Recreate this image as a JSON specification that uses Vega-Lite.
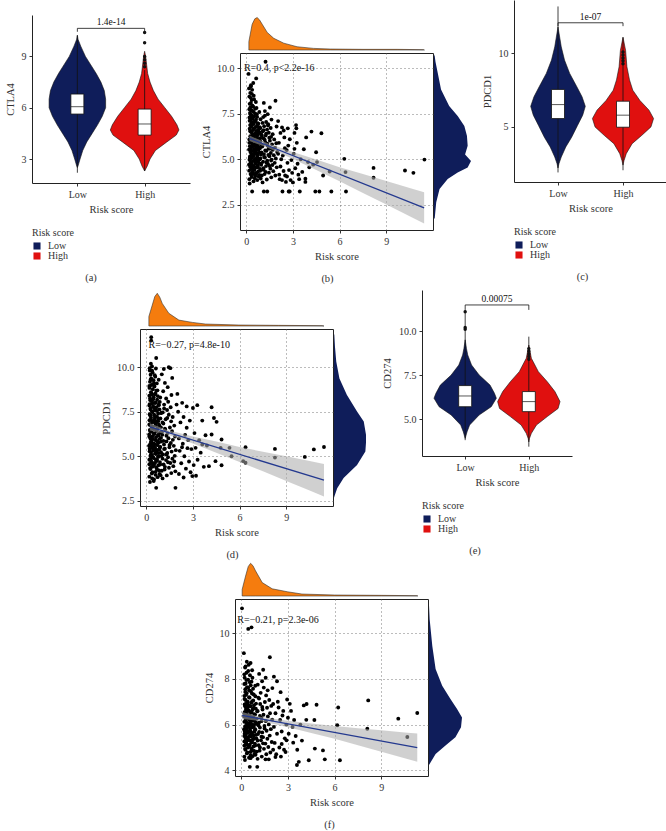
{
"$schema":"https://vega.github.io/schema/vega-lite/v6.json",
"padding":{"left":5,"top":0,"right":0,"bottom":0},
"background":"white",
"config":{
 "view":{"stroke":null},
 "font":"Liberation Serif",
 "style":{"guide-title":{"fontWeight":"normal"},"group-title":{"fontWeight":"normal"}},
 "axis":{"labelFont":"Liberation Serif","titleFont":"Liberation Serif","labelFontSize":10,"titleFontSize":10.5,"titleFontWeight":"normal","labelColor":"#333","titleColor":"#333","tickColor":"#333","domainColor":"#222","tickSize":3,"labelPadding":3,"titlePadding":5,"grid":false},
 "axisX":{"titleFontWeight":"normal"},
 "axisY":{"titleFontWeight":"normal"},
 "legend":{"labelFont":"Liberation Serif","titleFont":"Liberation Serif","labelFontSize":10,"titleFontSize":10,"titleFontWeight":"normal","labelColor":"#333","titleColor":"#333","symbolType":"square","symbolSize":50,"rowPadding":0,"titlePadding":3,"labelOffset":6,"symbolStrokeWidth":0},
 "title":{"font":"Liberation Serif","fontSize":10.5,"fontWeight":"normal","color":"#333"},
 "text":{"font":"Liberation Serif"}
},
"resolve":{"scale":{"color":"independent"},"legend":{"color":"independent"}},
"datasets":{
"vioA":[
{"g":"Low","v":2.5,"lo":1,"hi":1},{"g":"Low","v":2.6,"lo":0.99,"hi":1.01},{"g":"Low","v":3.0,"lo":0.96,"hi":1.04},{"g":"Low","v":3.5,"lo":0.92,"hi":1.08},{"g":"Low","v":4.0,"lo":0.86,"hi":1.14},{"g":"Low","v":4.5,"lo":0.78,"hi":1.22},{"g":"Low","v":5.0,"lo":0.7,"hi":1.3},{"g":"Low","v":5.5,"lo":0.63,"hi":1.37},{"g":"Low","v":6.0,"lo":0.58,"hi":1.42},{"g":"Low","v":6.5,"lo":0.58,"hi":1.42},{"g":"Low","v":7.0,"lo":0.6,"hi":1.4},{"g":"Low","v":7.5,"lo":0.65,"hi":1.35},{"g":"Low","v":8.0,"lo":0.72,"hi":1.28},{"g":"Low","v":8.5,"lo":0.8,"hi":1.2},{"g":"Low","v":9.0,"lo":0.88,"hi":1.12},{"g":"Low","v":9.6,"lo":0.95,"hi":1.05},{"g":"Low","v":10.0,"lo":0.99,"hi":1.01},{"g":"Low","v":10.25,"lo":1,"hi":1},
{"g":"High","v":2.3,"lo":2,"hi":2},{"g":"High","v":2.6,"lo":1.96,"hi":2.04},{"g":"High","v":3.0,"lo":1.92,"hi":2.08},{"g":"High","v":3.5,"lo":1.84,"hi":2.16},{"g":"High","v":4.0,"lo":1.67,"hi":2.33},{"g":"High","v":4.4,"lo":1.53,"hi":2.47},{"g":"High","v":4.7,"lo":1.49,"hi":2.51},{"g":"High","v":5.0,"lo":1.52,"hi":2.48},{"g":"High","v":5.5,"lo":1.6,"hi":2.4},{"g":"High","v":6.0,"lo":1.7,"hi":2.3},{"g":"High","v":6.5,"lo":1.8,"hi":2.2},{"g":"High","v":7.0,"lo":1.87,"hi":2.13},{"g":"High","v":7.5,"lo":1.92,"hi":2.08},{"g":"High","v":8.0,"lo":1.955,"hi":2.045},{"g":"High","v":8.5,"lo":1.97,"hi":2.03},{"g":"High","v":9.0,"lo":1.985,"hi":2.015},{"g":"High","v":9.3,"lo":2,"hi":2}],
"boxA":[{"g":"Low","x":1,"q1":5.63,"med":6.06,"q3":6.8,"wlo":2.2,"whi":10.2},{"g":"High","x":2,"q1":4.4,"med":5.05,"q3":5.92,"wlo":2.3,"whi":8.2}],
"outA":[{"x":2,"v":8.4},{"x":2,"v":8.6},{"x":2,"v":8.8},{"x":2,"v":9.0},{"x":2,"v":9.8},{"x":2,"v":10.4}],
"brA":[{"x1":1,"x2":2,"xm":1.5,"y":10.64,"yt":10.44,"t":"1.4e-14"}],
"vioC":[
{"g":"Low","v":2.2,"lo":1,"hi":1},{"g":"Low","v":2.5,"lo":0.985,"hi":1.015},{"g":"Low","v":2.95,"lo":0.95,"hi":1.05},{"g":"Low","v":3.64,"lo":0.88,"hi":1.12},{"g":"Low","v":4.3,"lo":0.79,"hi":1.21},{"g":"Low","v":5.1,"lo":0.7,"hi":1.3},{"g":"Low","v":5.8,"lo":0.62,"hi":1.38},{"g":"Low","v":6.4,"lo":0.58,"hi":1.42},{"g":"Low","v":7.05,"lo":0.63,"hi":1.37},{"g":"Low","v":7.73,"lo":0.71,"hi":1.29},{"g":"Low","v":8.64,"lo":0.82,"hi":1.18},{"g":"Low","v":9.55,"lo":0.9,"hi":1.1},{"g":"Low","v":10.45,"lo":0.95,"hi":1.05},{"g":"Low","v":11.0,"lo":0.97,"hi":1.03},{"g":"Low","v":11.8,"lo":1,"hi":1},
{"g":"High","v":2.4,"lo":2,"hi":2},{"g":"High","v":2.7,"lo":1.985,"hi":2.015},{"g":"High","v":3.18,"lo":1.95,"hi":2.05},{"g":"High","v":3.86,"lo":1.86,"hi":2.14},{"g":"High","v":4.43,"lo":1.71,"hi":2.29},{"g":"High","v":5.0,"lo":1.57,"hi":2.43},{"g":"High","v":5.57,"lo":1.53,"hi":2.47},{"g":"High","v":6.14,"lo":1.6,"hi":2.4},{"g":"High","v":6.8,"lo":1.74,"hi":2.26},{"g":"High","v":7.5,"lo":1.85,"hi":2.15},{"g":"High","v":8.2,"lo":1.9,"hi":2.1},{"g":"High","v":9.1,"lo":1.94,"hi":2.06},{"g":"High","v":10.2,"lo":1.96,"hi":2.04},{"g":"High","v":11.1,"lo":2,"hi":2}],
"boxC":[{"g":"Low","x":1,"q1":5.57,"med":6.52,"q3":7.55,"wlo":1.9,"whi":13.2},{"g":"High","x":2,"q1":4.98,"med":5.8,"q3":6.75,"wlo":2.05,"whi":11.1}],
"outC":[{"x":2,"v":9.3},{"x":2,"v":9.5},{"x":2,"v":9.7},{"x":2,"v":9.9},{"x":2,"v":10.1}],
"brC":[{"x1":1,"x2":2,"xm":1.5,"y":12.09,"yt":11.86,"t":"1e-07"}],
"vioE":[
{"g":"Low","v":3.9,"lo":1,"hi":1},{"g":"Low","v":4.09,"lo":0.985,"hi":1.015},{"g":"Low","v":4.28,"lo":0.97,"hi":1.03},{"g":"Low","v":4.66,"lo":0.93,"hi":1.07},{"g":"Low","v":5.23,"lo":0.78,"hi":1.22},{"g":"Low","v":5.7,"lo":0.59,"hi":1.41},{"g":"Low","v":6.18,"lo":0.51,"hi":1.49},{"g":"Low","v":6.46,"lo":0.54,"hi":1.46},{"g":"Low","v":6.93,"lo":0.61,"hi":1.39},{"g":"Low","v":7.5,"lo":0.78,"hi":1.22},{"g":"Low","v":8.07,"lo":0.9,"hi":1.1},{"g":"Low","v":8.64,"lo":0.96,"hi":1.04},{"g":"Low","v":9.0,"lo":0.98,"hi":1.02},{"g":"Low","v":9.5,"lo":1,"hi":1},
{"g":"High","v":3.7,"lo":2,"hi":2},{"g":"High","v":3.9,"lo":1.99,"hi":2.01},{"g":"High","v":4.19,"lo":1.96,"hi":2.04},{"g":"High","v":4.66,"lo":1.88,"hi":2.12},{"g":"High","v":5.14,"lo":1.71,"hi":2.29},{"g":"High","v":5.6,"lo":1.54,"hi":2.46},{"g":"High","v":5.99,"lo":1.51,"hi":2.49},{"g":"High","v":6.56,"lo":1.59,"hi":2.41},{"g":"High","v":7.12,"lo":1.71,"hi":2.29},{"g":"High","v":7.69,"lo":1.85,"hi":2.15},{"g":"High","v":8.45,"lo":1.96,"hi":2.04},{"g":"High","v":9.2,"lo":2,"hi":2}],
"boxE":[{"g":"Low","x":1,"q1":5.7,"med":6.31,"q3":6.9,"wlo":3.8,"whi":11.2},{"g":"High","x":2,"q1":5.42,"med":5.99,"q3":6.56,"wlo":3.43,"whi":9.68}],
"outE":[{"x":1,"v":10.1},{"x":1,"v":10.2},{"x":1,"v":11.1},{"x":2,"v":8.4},{"x":2,"v":8.55},{"x":2,"v":8.7},{"x":2,"v":8.85},{"x":2,"v":9.0}],
"brE":[{"x1":1,"x2":2,"xm":1.5,"y":11.48,"yt":11.2,"t":"0.00075"}],
"tdB":[{"r":0.17,"d":0},{"r":0.17,"d":0.26},{"r":0.38,"d":0.79},{"r":0.55,"d":0.96},{"r":0.7,"d":1.0},{"r":0.85,"d":0.93},{"r":1.03,"d":0.79},{"r":1.35,"d":0.54},{"r":1.77,"d":0.36},{"r":2.41,"d":0.21},{"r":3.27,"d":0.1},{"r":4.33,"d":0.05},{"r":5.4,"d":0.03},{"r":7.5,"d":0.02},{"r":9.7,"d":0.02},{"r":11.4,"d":0.01},{"r":11.45,"d":0}],
"rdB":[{"v":1.54,"d":0},{"v":1.6,"d":0.02},{"v":2.46,"d":0.06},{"v":3.19,"d":0.15},{"v":3.74,"d":0.37},{"v":4.1,"d":0.64},{"v":4.38,"d":0.91},{"v":4.74,"d":1.0},{"v":5.1,"d":0.84},{"v":5.57,"d":0.91},{"v":6.12,"d":0.89},{"v":6.66,"d":0.82},{"v":7.21,"d":0.64},{"v":7.76,"d":0.41},{"v":8.68,"d":0.19},{"v":9.6,"d":0.1},{"v":10.2,"d":0.04},{"v":10.51,"d":0.02},{"v":10.6,"d":0}],
"tdD":[{"r":0.17,"d":0},{"r":0.17,"d":0.29},{"r":0.39,"d":0.64},{"r":0.55,"d":0.9},{"r":0.71,"d":1.0},{"r":0.87,"d":0.88},{"r":1.03,"d":0.69},{"r":1.45,"d":0.39},{"r":2.1,"d":0.18},{"r":2.96,"d":0.11},{"r":3.8,"d":0.06},{"r":5.95,"d":0.03},{"r":8.5,"d":0.02},{"r":11.3,"d":0.01},{"r":11.42,"d":0}],
"rdD":[{"v":2.5,"d":0},{"v":2.66,"d":0.03},{"v":3.03,"d":0.1},{"v":3.6,"d":0.3},{"v":4.34,"d":0.72},{"v":5.1,"d":0.98},{"v":5.6,"d":1.0},{"v":6.03,"d":1.0},{"v":6.78,"d":0.93},{"v":7.34,"d":0.72},{"v":8.28,"d":0.4},{"v":9.2,"d":0.17},{"v":10.15,"d":0.07},{"v":11.0,"d":0.03},{"v":11.65,"d":0.01},{"v":11.7,"d":0}],
"tdF":[{"r":0.06,"d":0},{"r":0.06,"d":0.2},{"r":0.28,"d":0.61},{"r":0.45,"d":0.9},{"r":0.6,"d":1.0},{"r":0.75,"d":0.93},{"r":0.92,"d":0.77},{"r":1.35,"d":0.41},{"r":1.99,"d":0.22},{"r":2.96,"d":0.13},{"r":3.9,"d":0.06},{"r":6.0,"d":0.03},{"r":9.0,"d":0.02},{"r":11.31,"d":0.01},{"r":11.35,"d":0}],
"rdF":[{"v":4.1,"d":0},{"v":4.22,"d":0.05},{"v":4.58,"d":0.2},{"v":4.95,"d":0.5},{"v":5.31,"d":0.8},{"v":5.75,"d":0.97},{"v":6.18,"d":1.0},{"v":6.55,"d":0.85},{"v":6.99,"d":0.65},{"v":7.57,"d":0.4},{"v":8.3,"d":0.2},{"v":9.31,"d":0.1},{"v":10.48,"d":0.02},{"v":11.1,"d":0}],
"lineB":[{"r":0.21,"v":6.15},{"r":11.43,"v":2.32}],
"bandB":[{"r":0.21,"lo":6.0,"hi":6.3},{"r":1.3,"lo":5.66,"hi":5.9},{"r":3,"lo":5.01,"hi":5.39},{"r":4.5,"lo":4.4,"hi":4.98},{"r":6,"lo":3.78,"hi":4.56},{"r":7.5,"lo":3.14,"hi":4.18},{"r":9,"lo":2.5,"hi":3.8},{"r":10.5,"lo":1.86,"hi":3.42},{"r":11.43,"lo":1.46,"hi":3.18}],
"lineD":[{"r":0.23,"v":6.65},{"r":11.42,"v":3.65}],
"bandD":[{"r":0.23,"lo":6.45,"hi":6.85},{"r":1.3,"lo":6.23,"hi":6.49},{"r":3,"lo":5.71,"hi":6.11},{"r":4.5,"lo":5.2,"hi":5.82},{"r":6,"lo":4.68,"hi":5.52},{"r":7.5,"lo":4.15,"hi":5.25},{"r":9,"lo":3.61,"hi":4.99},{"r":10.5,"lo":3.07,"hi":4.73},{"r":11.42,"lo":2.74,"hi":4.56}],
"lineF":[{"r":0.06,"v":6.4},{"r":11.31,"v":4.99}],
"bandF":[{"r":0.06,"lo":6.25,"hi":6.55},{"r":1.3,"lo":6.15,"hi":6.33},{"r":3,"lo":5.89,"hi":6.17},{"r":4.5,"lo":5.63,"hi":6.05},{"r":6,"lo":5.38,"hi":5.94},{"r":7.5,"lo":5.1,"hi":5.84},{"r":9,"lo":4.81,"hi":5.75},{"r":10.5,"lo":4.53,"hi":5.65},{"r":11.31,"lo":4.37,"hi":5.61}],
"txtB":[{"r":-0.15,"v":10.0,"t":"R=0.4, p<2.2e-16"}],
"txtD":[{"r":0.15,"v":11.24,"t":"R=−0.27, p=4.8e-10"}],
"txtF":[{"r":-0.25,"v":10.59,"t":"R=−0.21, p=2.3e-06"}],
"ptsB":[
{"r":0.22,"v":3.66},{"r":0.47,"v":3.78},{"r":0.71,"v":3.85},{"r":0.93,"v":3.93},{"r":0.35,"v":4.02},{"r":0.58,"v":4.08},{"r":0.84,"v":4.13},{"r":0.28,"v":4.19},{"r":0.63,"v":4.24},{"r":0.41,"v":4.28},{"r":0.77,"v":4.33},{"r":0.19,"v":4.37},{"r":0.52,"v":4.41},{"r":0.89,"v":4.46},{"r":0.33,"v":4.5},{"r":0.68,"v":4.54},
{"r":0.25,"v":4.58},{"r":0.49,"v":4.61},{"r":0.74,"v":4.65},{"r":0.96,"v":4.69},{"r":0.37,"v":4.72},{"r":0.6,"v":4.76},{"r":0.81,"v":4.8},{"r":0.3,"v":4.83},{"r":0.66,"v":4.87},{"r":0.44,"v":4.9},{"r":0.79,"v":4.94},{"r":0.21,"v":4.97},{"r":0.55,"v":5.01},{"r":0.91,"v":5.04},{"r":0.36,"v":5.08},{"r":0.7,"v":5.11},
{"r":0.24,"v":5.15},{"r":0.46,"v":5.18},{"r":0.73,"v":5.22},{"r":0.95,"v":5.25},{"r":0.34,"v":5.29},{"r":0.57,"v":5.32},{"r":0.86,"v":5.36},{"r":0.27,"v":5.39},{"r":0.62,"v":5.43},{"r":0.4,"v":5.46},{"r":0.78,"v":5.5},{"r":0.18,"v":5.53},{"r":0.51,"v":5.57},{"r":0.88,"v":5.6},{"r":0.32,"v":5.64},{"r":0.67,"v":5.67},
{"r":0.23,"v":5.71},{"r":0.48,"v":5.74},{"r":0.72,"v":5.78},{"r":0.94,"v":5.81},{"r":0.38,"v":5.85},{"r":0.59,"v":5.88},{"r":0.83,"v":5.92},{"r":0.29,"v":5.95},{"r":0.64,"v":5.99},{"r":0.42,"v":6.02},{"r":0.76,"v":6.06},{"r":0.2,"v":6.09},{"r":0.53,"v":6.13},{"r":0.9,"v":6.16},{"r":0.31,"v":6.2},{"r":0.69,"v":6.23},
{"r":0.26,"v":6.27},{"r":0.5,"v":6.3},{"r":0.75,"v":6.34},{"r":0.97,"v":6.37},{"r":0.39,"v":6.41},{"r":0.61,"v":6.44},{"r":0.85,"v":6.48},{"r":0.28,"v":6.52},{"r":0.65,"v":6.56},{"r":0.43,"v":6.6},{"r":0.8,"v":6.64},{"r":0.22,"v":6.68},{"r":0.54,"v":6.72},{"r":0.87,"v":6.76},{"r":0.33,"v":6.8},{"r":0.7,"v":6.84},
{"r":0.25,"v":6.88},{"r":0.47,"v":6.93},{"r":0.73,"v":6.98},{"r":0.36,"v":7.03},{"r":0.58,"v":7.08},{"r":0.29,"v":7.13},{"r":0.63,"v":7.18},{"r":0.41,"v":7.24},{"r":0.21,"v":7.3},{"r":0.52,"v":7.36},{"r":0.34,"v":7.42},{"r":0.68,"v":7.48},{"r":0.24,"v":7.55},{"r":0.46,"v":7.62},{"r":0.31,"v":7.7},{"r":0.57,"v":7.78},
{"r":0.27,"v":7.86},{"r":0.4,"v":7.95},{"r":0.22,"v":8.05},{"r":0.62,"v":8.15},{"r":0.35,"v":8.26},{"r":0.29,"v":8.38},{"r":0.48,"v":8.5},{"r":0.26,"v":8.65},{"r":0.38,"v":8.82},{"r":0.3,"v":9.0},{"r":0.64,"v":9.45},{"r":0.3,"v":9.08},{"r":0.15,"v":9.7},
{"r":0.45,"v":4.4},{"r":0.3,"v":4.65},{"r":0.6,"v":4.98},{"r":0.42,"v":5.2},{"r":0.27,"v":5.55},{"r":0.5,"v":5.8},{"r":0.36,"v":6.05},{"r":0.6,"v":6.35},{"r":0.28,"v":4.85},{"r":0.55,"v":5.35},{"r":0.72,"v":5.62},{"r":0.44,"v":6.15},{"r":0.33,"v":6.5},{"r":0.62,"v":4.55},{"r":0.5,"v":4.18},{"r":0.25,"v":5.0},
{"r":0.2,"v":3.9},{"r":0.55,"v":3.95},{"r":0.8,"v":4.05},{"r":1.0,"v":4.1},{"r":0.32,"v":4.15},{"r":0.66,"v":4.22},{"r":1.25,"v":4.3},{"r":0.9,"v":4.36},{"r":0.4,"v":4.44},{"r":1.1,"v":4.5},{"r":0.75,"v":4.57},{"r":1.5,"v":4.63},{"r":0.18,"v":4.7},{"r":0.95,"v":4.75},{"r":1.3,"v":4.82},{"r":0.58,"v":4.88},{"r":1.6,"v":4.93},{"r":0.85,"v":5.0},{"r":0.23,"v":5.06},{"r":1.15,"v":5.12},{"r":0.48,"v":5.19},{"r":1.42,"v":5.24},{"r":0.7,"v":5.3},{"r":0.98,"v":5.37},{"r":0.3,"v":5.41},{"r":1.22,"v":5.48},{"r":0.6,"v":5.52},{"r":1.55,"v":5.58},{"r":0.82,"v":5.63},{"r":0.38,"v":5.69},{"r":1.05,"v":5.75},{"r":0.66,"v":5.8},{"r":1.35,"v":5.86},{"r":0.2,"v":5.9},{"r":0.92,"v":5.97},{"r":0.5,"v":6.03},{"r":1.18,"v":6.08},{"r":0.74,"v":6.12},{"r":1.48,"v":6.18},{"r":0.34,"v":6.25},{"r":1.0,"v":6.3},{"r":0.58,"v":6.36},{"r":1.28,"v":6.41},{"r":0.8,"v":6.46},{"r":0.25,"v":6.55},{"r":1.12,"v":6.6},{"r":0.45,"v":6.66},{"r":0.9,"v":6.71},{"r":0.64,"v":6.78},{"r":1.4,"v":6.85},{"r":0.3,"v":6.9},{"r":0.78,"v":6.96},{"r":1.05,"v":7.0},{"r":0.5,"v":7.06},{"r":0.22,"v":7.12},{"r":0.92,"v":7.2},{"r":0.4,"v":7.27},{"r":0.7,"v":7.33},{"r":1.2,"v":7.4},{"r":0.28,"v":7.46},{"r":0.56,"v":7.52},{"r":0.84,"v":7.6},{"r":0.36,"v":7.68},{"r":0.2,"v":7.75},{"r":0.66,"v":7.82},{"r":0.44,"v":7.9},{"r":0.3,"v":8.1},{"r":0.5,"v":8.3},{"r":0.2,"v":8.45},{"r":0.36,"v":8.6},{"r":0.18,"v":8.9},{"r":0.45,"v":9.2},
{"r":1.05,"v":3.72},{"r":1.32,"v":3.88},{"r":1.61,"v":4.0},{"r":1.87,"v":4.1},{"r":1.18,"v":4.18},{"r":1.46,"v":4.26},{"r":1.74,"v":4.34},{"r":1.12,"v":4.41},{"r":1.55,"v":4.48},{"r":1.96,"v":4.55},{"r":1.27,"v":4.62},{"r":1.68,"v":4.68},{"r":1.4,"v":4.74},{"r":1.83,"v":4.8},
{"r":1.08,"v":4.86},{"r":1.35,"v":4.92},{"r":1.63,"v":4.98},{"r":1.9,"v":5.04},{"r":1.2,"v":5.1},{"r":1.49,"v":5.16},{"r":1.77,"v":5.22},{"r":1.14,"v":5.28},{"r":1.58,"v":5.34},{"r":1.99,"v":5.4},{"r":1.3,"v":5.46},{"r":1.71,"v":5.52},{"r":1.43,"v":5.58},{"r":1.85,"v":5.64},
{"r":1.03,"v":5.7},{"r":1.37,"v":5.76},{"r":1.66,"v":5.82},{"r":1.93,"v":5.88},{"r":1.22,"v":5.95},{"r":1.52,"v":6.02},{"r":1.8,"v":6.09},{"r":1.1,"v":6.16},{"r":1.6,"v":6.23},{"r":1.25,"v":6.3},{"r":1.7,"v":6.38},{"r":1.45,"v":6.46},{"r":1.06,"v":6.54},{"r":1.34,"v":6.63},
{"r":1.57,"v":6.72},{"r":1.15,"v":6.82},{"r":1.41,"v":6.93},{"r":1.28,"v":7.05},{"r":1.62,"v":7.18},{"r":1.09,"v":7.32},{"r":1.38,"v":7.48},{"r":1.2,"v":7.65},{"r":1.52,"v":7.85},{"r":1.13,"v":8.1},
{"r":2.41,"v":6.58},{"r":2.67,"v":6.7},{"r":3.2,"v":6.88},{"r":3.22,"v":6.7},{"r":4.19,"v":6.52},{"r":4.83,"v":6.43},{"r":4.49,"v":5.38},{"r":3.97,"v":4.84},{"r":4.55,"v":4.84},{"r":4.94,"v":4.1},{"r":5.36,"v":4.32},{"r":6.3,"v":5.02},{"r":6.38,"v":4.29},{"r":8.18,"v":4.52},{"r":8.18,"v":3.98},{"r":10.2,"v":4.38},{"r":10.74,"v":4.25},{"r":11.45,"v":4.98},{"r":3.1,"v":5.57},{"r":3.8,"v":3.92},{"r":3.8,"v":3.75},
{"r":0.38,"v":3.22},{"r":1.13,"v":3.22},{"r":1.35,"v":3.22},{"r":2.33,"v":3.22},{"r":2.73,"v":3.22},{"r":2.79,"v":3.22},{"r":3.44,"v":3.22},{"r":4.44,"v":3.22},{"r":4.7,"v":3.22},{"r":5.47,"v":3.22},{"r":6.41,"v":3.22},
{"r":1.24,"v":10.37},{"r":1.88,"v":8.22},
{"r":2.1,"v":5.9},{"r":2.2,"v":4.6},{"r":2.35,"v":5.2},{"r":2.5,"v":4.1},{"r":2.55,"v":3.75},{"r":2.6,"v":5.5},{"r":2.75,"v":4.4},{"r":2.8,"v":6.1},{"r":2.9,"v":4.95},{"r":3.0,"v":3.72},{"r":3.05,"v":5.3},{"r":3.15,"v":4.5},{"r":3.3,"v":4.75},{"r":3.4,"v":3.9},{"r":3.5,"v":5.0},{"r":3.6,"v":4.3},{"r":2.45,"v":6.2},{"r":2.2,"v":6.45},{"r":2.05,"v":7.1},{"r":1.95,"v":6.8},{"r":2.3,"v":3.85},{"r":2.65,"v":4.8},{"r":2.95,"v":4.25},{"r":3.25,"v":5.9},{"r":3.7,"v":5.55},{"r":4.05,"v":4.55},{"r":3.85,"v":6.2},{"r":4.3,"v":4.7},{"r":2.15,"v":3.9},{"r":2.4,"v":4.35},{"r":2.85,"v":3.85},{"r":3.35,"v":4.15},{"r":2.7,"v":5.75},{"r":2.05,"v":5.3},{"r":2.25,"v":5.0},{"r":2.12,"v":4.15},{"r":2.48,"v":5.6},{"r":2.62,"v":4.05},{"r":3.1,"v":6.45},{"r":2.3,"v":6.75}],
"ptsD":[
{"r":0.24,"v":3.55},{"r":0.5,"v":3.7},{"r":0.73,"v":3.82},{"r":0.92,"v":3.93},{"r":0.36,"v":4.03},{"r":0.6,"v":4.12},{"r":0.83,"v":4.2},{"r":0.27,"v":4.28},{"r":0.65,"v":4.35},{"r":0.43,"v":4.42},{"r":0.78,"v":4.49},{"r":0.2,"v":4.55},{"r":0.55,"v":4.61},{"r":0.88,"v":4.67},{"r":0.32,"v":4.73},{"r":0.7,"v":4.79},
{"r":0.26,"v":4.85},{"r":0.48,"v":4.9},{"r":0.75,"v":4.96},{"r":0.97,"v":5.01},{"r":0.38,"v":5.07},{"r":0.62,"v":5.12},{"r":0.8,"v":5.17},{"r":0.3,"v":5.22},{"r":0.67,"v":5.27},{"r":0.45,"v":5.32},{"r":0.84,"v":5.37},{"r":0.22,"v":5.42},{"r":0.57,"v":5.47},{"r":0.9,"v":5.52},{"r":0.35,"v":5.57},{"r":0.71,"v":5.62},
{"r":0.25,"v":5.67},{"r":0.47,"v":5.72},{"r":0.74,"v":5.77},{"r":0.95,"v":5.82},{"r":0.34,"v":5.87},{"r":0.58,"v":5.92},{"r":0.86,"v":5.97},{"r":0.28,"v":6.02},{"r":0.63,"v":6.07},{"r":0.41,"v":6.12},{"r":0.79,"v":6.17},{"r":0.19,"v":6.22},{"r":0.52,"v":6.27},{"r":0.89,"v":6.32},{"r":0.33,"v":6.37},{"r":0.68,"v":6.42},
{"r":0.23,"v":6.47},{"r":0.49,"v":6.52},{"r":0.72,"v":6.57},{"r":0.94,"v":6.62},{"r":0.39,"v":6.67},{"r":0.6,"v":6.72},{"r":0.82,"v":6.77},{"r":0.29,"v":6.82},{"r":0.64,"v":6.87},{"r":0.42,"v":6.92},{"r":0.77,"v":6.97},{"r":0.21,"v":7.02},{"r":0.54,"v":7.07},{"r":0.91,"v":7.12},{"r":0.31,"v":7.17},{"r":0.69,"v":7.22},
{"r":0.26,"v":7.27},{"r":0.51,"v":7.33},{"r":0.76,"v":7.39},{"r":0.98,"v":7.45},{"r":0.37,"v":7.51},{"r":0.61,"v":7.57},{"r":0.85,"v":7.63},{"r":0.28,"v":7.69},{"r":0.66,"v":7.75},{"r":0.44,"v":7.81},{"r":0.81,"v":7.87},{"r":0.22,"v":7.93},{"r":0.56,"v":7.99},{"r":0.87,"v":8.05},{"r":0.34,"v":8.11},{"r":0.7,"v":8.17},
{"r":0.25,"v":8.24},{"r":0.48,"v":8.31},{"r":0.74,"v":8.38},{"r":0.36,"v":8.45},{"r":0.59,"v":8.52},{"r":0.3,"v":8.6},{"r":0.64,"v":8.68},{"r":0.42,"v":8.76},{"r":0.21,"v":8.84},{"r":0.53,"v":8.92},{"r":0.35,"v":9.0},{"r":0.68,"v":9.09},{"r":0.24,"v":9.18},{"r":0.47,"v":9.27},{"r":0.32,"v":9.37},{"r":0.58,"v":9.47},
{"r":0.28,"v":9.58},{"r":0.41,"v":9.7},{"r":0.23,"v":9.82},{"r":0.62,"v":9.93},{"r":0.37,"v":10.05},{"r":0.3,"v":10.2},{"r":0.32,"v":11.69},{"r":0.32,"v":11.5},{"r":0.64,"v":10.52},
{"r":0.45,"v":4.6},{"r":0.3,"v":5.0},{"r":0.6,"v":5.35},{"r":0.4,"v":5.7},{"r":0.27,"v":6.0},{"r":0.5,"v":6.3},{"r":0.36,"v":6.6},{"r":0.6,"v":6.95},{"r":0.28,"v":7.3},{"r":0.55,"v":7.6},{"r":0.72,"v":5.85},{"r":0.44,"v":8.0},{"r":0.33,"v":4.4},{"r":0.62,"v":4.8},{"r":0.5,"v":5.55},{"r":0.25,"v":6.75},
{"r":0.2,"v":3.85},{"r":0.6,"v":3.95},{"r":0.85,"v":4.0},{"r":0.4,"v":4.1},{"r":1.0,"v":4.18},{"r":0.7,"v":4.25},{"r":0.25,"v":4.33},{"r":1.2,"v":4.4},{"r":0.5,"v":4.47},{"r":0.9,"v":4.53},{"r":0.3,"v":4.6},{"r":1.4,"v":4.66},{"r":0.65,"v":4.72},{"r":0.2,"v":4.8},{"r":1.05,"v":4.86},{"r":0.45,"v":4.92},{"r":0.8,"v":4.98},{"r":0.28,"v":5.05},{"r":1.3,"v":5.1},{"r":0.58,"v":5.16},{"r":0.95,"v":5.22},{"r":0.22,"v":5.28},{"r":0.7,"v":5.35},{"r":1.15,"v":5.4},{"r":0.4,"v":5.45},{"r":0.88,"v":5.5},{"r":0.18,"v":5.58},{"r":1.5,"v":5.63},{"r":0.55,"v":5.68},{"r":0.8,"v":5.75},{"r":0.3,"v":5.8},{"r":1.1,"v":5.86},{"r":0.62,"v":5.9},{"r":0.42,"v":5.96},{"r":0.95,"v":6.03},{"r":0.2,"v":6.1},{"r":1.3,"v":6.15},{"r":0.75,"v":6.2},{"r":0.5,"v":6.25},{"r":1.0,"v":6.35},{"r":0.27,"v":6.4},{"r":0.66,"v":6.45},{"r":1.2,"v":6.55},{"r":0.38,"v":6.62},{"r":0.85,"v":6.7},{"r":0.2,"v":6.78},{"r":0.58,"v":6.85},{"r":1.05,"v":6.9},{"r":0.45,"v":6.98},{"r":0.3,"v":7.05},{"r":0.78,"v":7.12},{"r":1.35,"v":7.15},{"r":0.55,"v":7.2},{"r":0.22,"v":7.36},{"r":0.95,"v":7.42},{"r":0.4,"v":7.48},{"r":0.7,"v":7.55},{"r":0.28,"v":7.62},{"r":1.15,"v":7.68},{"r":0.5,"v":7.74},{"r":0.2,"v":7.85},{"r":0.8,"v":7.9},{"r":0.36,"v":7.96},{"r":0.62,"v":8.02},{"r":0.26,"v":8.15},{"r":0.45,"v":8.2},{"r":0.9,"v":8.3},{"r":0.2,"v":8.4},{"r":0.55,"v":8.48},{"r":0.33,"v":8.55},{"r":0.72,"v":8.7},{"r":0.2,"v":8.95},{"r":0.45,"v":9.05},{"r":0.28,"v":9.3},{"r":0.55,"v":9.55},{"r":0.38,"v":9.8},{"r":0.22,"v":9.95},{"r":0.5,"v":9.1},{"r":1.0,"v":9.6},{"r":0.8,"v":9.3},
{"r":1.05,"v":3.75},{"r":1.32,"v":3.92},{"r":1.61,"v":4.05},{"r":1.87,"v":4.15},{"r":1.18,"v":4.25},{"r":1.46,"v":4.35},{"r":1.74,"v":4.44},{"r":1.12,"v":4.53},{"r":1.55,"v":4.62},{"r":1.8,"v":4.7},{"r":1.27,"v":4.78},{"r":1.68,"v":4.86},{"r":1.4,"v":4.94},{"r":1.83,"v":5.02},
{"r":1.08,"v":5.1},{"r":1.35,"v":5.18},{"r":1.63,"v":5.26},{"r":1.9,"v":5.34},{"r":1.2,"v":5.42},{"r":1.49,"v":5.5},{"r":1.77,"v":5.58},{"r":1.14,"v":5.66},{"r":1.58,"v":5.74},{"r":1.3,"v":5.83},{"r":1.71,"v":5.92},{"r":1.43,"v":6.01},{"r":1.85,"v":6.1},{"r":1.03,"v":6.2},
{"r":1.37,"v":6.3},{"r":1.66,"v":6.4},{"r":1.22,"v":6.5},{"r":1.52,"v":6.61},{"r":1.8,"v":6.72},{"r":1.1,"v":6.84},{"r":1.6,"v":6.96},{"r":1.25,"v":7.08},{"r":1.7,"v":7.2},{"r":1.45,"v":7.33},{"r":1.06,"v":7.46},{"r":1.34,"v":7.6},{"r":1.57,"v":7.75},{"r":1.15,"v":7.9},{"r":1.41,"v":8.06},{"r":1.28,"v":8.24},{"r":1.62,"v":8.44},{"r":1.09,"v":8.65},{"r":1.38,"v":8.88},{"r":1.2,"v":9.12},{"r":1.45,"v":10.0},{"r":1.67,"v":9.4},{"r":1.55,"v":9.95},{"r":1.13,"v":9.9},
{"r":2.31,"v":8.0},{"r":3.0,"v":7.71},{"r":3.28,"v":7.87},{"r":4.2,"v":7.75},{"r":4.35,"v":7.15},{"r":4.52,"v":6.93},{"r":4.2,"v":6.22},{"r":4.84,"v":5.94},{"r":3.81,"v":6.18},{"r":3.6,"v":5.66},{"r":3.17,"v":5.47},{"r":4.78,"v":5.47},{"r":5.35,"v":5.47},{"r":5.48,"v":5.0},{"r":4.45,"v":4.72},{"r":4.84,"v":4.49},{"r":4.03,"v":4.44},{"r":6.38,"v":5.5},{"r":6.23,"v":4.72},{"r":6.38,"v":4.63},{"r":8.27,"v":5.41},{"r":8.27,"v":4.92},{"r":10.19,"v":4.96},{"r":10.77,"v":5.38},{"r":11.42,"v":5.52},{"r":0.64,"v":3.22},{"r":1.88,"v":3.22},{"r":0.38,"v":3.75},{"r":0.48,"v":3.6},{"r":2.96,"v":3.88},
{"r":2.05,"v":7.5},{"r":2.2,"v":6.9},{"r":2.4,"v":7.2},{"r":2.6,"v":6.6},{"r":2.8,"v":7.0},{"r":2.5,"v":6.2},{"r":2.1,"v":6.0},{"r":2.35,"v":5.7},{"r":2.7,"v":5.9},{"r":2.9,"v":5.4},{"r":3.1,"v":6.3},{"r":3.4,"v":5.9},{"r":2.15,"v":5.3},{"r":2.45,"v":5.0},{"r":2.75,"v":4.7},{"r":2.25,"v":4.6},{"r":2.55,"v":4.3},{"r":2.85,"v":4.1},{"r":3.05,"v":4.5},{"r":3.3,"v":4.8},{"r":3.5,"v":5.2},{"r":3.7,"v":4.4},{"r":2.1,"v":4.0},{"r":2.4,"v":3.8},{"r":3.2,"v":3.9},{"r":2.65,"v":5.45},{"r":3.6,"v":7.0},{"r":3.9,"v":5.6},{"r":2.0,"v":8.5},{"r":1.95,"v":7.9},{"r":2.6,"v":7.8},{"r":2.3,"v":5.5}],
"ptsF":[
{"r":0.24,"v":4.45},{"r":0.5,"v":4.55},{"r":0.73,"v":4.62},{"r":0.92,"v":4.68},{"r":0.36,"v":4.74},{"r":0.6,"v":4.8},{"r":0.83,"v":4.85},{"r":0.27,"v":4.9},{"r":0.65,"v":4.95},{"r":0.43,"v":5.0},{"r":0.78,"v":5.04},{"r":0.2,"v":5.08},{"r":0.55,"v":5.12},{"r":0.88,"v":5.16},{"r":0.32,"v":5.2},{"r":0.7,"v":5.24},
{"r":0.26,"v":5.28},{"r":0.48,"v":5.32},{"r":0.75,"v":5.36},{"r":0.97,"v":5.4},{"r":0.38,"v":5.44},{"r":0.62,"v":5.48},{"r":0.8,"v":5.52},{"r":0.3,"v":5.56},{"r":0.67,"v":5.6},{"r":0.45,"v":5.64},{"r":0.84,"v":5.68},{"r":0.22,"v":5.72},{"r":0.57,"v":5.76},{"r":0.9,"v":5.8},{"r":0.35,"v":5.84},{"r":0.71,"v":5.88},
{"r":0.25,"v":5.92},{"r":0.47,"v":5.96},{"r":0.74,"v":6.0},{"r":0.95,"v":6.04},{"r":0.34,"v":6.08},{"r":0.58,"v":6.12},{"r":0.86,"v":6.16},{"r":0.28,"v":6.2},{"r":0.63,"v":6.24},{"r":0.41,"v":6.28},{"r":0.79,"v":6.32},{"r":0.19,"v":6.36},{"r":0.52,"v":6.4},{"r":0.89,"v":6.44},{"r":0.33,"v":6.48},{"r":0.68,"v":6.52},
{"r":0.23,"v":6.56},{"r":0.49,"v":6.6},{"r":0.72,"v":6.65},{"r":0.94,"v":6.7},{"r":0.39,"v":6.75},{"r":0.6,"v":6.8},{"r":0.82,"v":6.85},{"r":0.29,"v":6.9},{"r":0.64,"v":6.95},{"r":0.42,"v":7.0},{"r":0.77,"v":7.06},{"r":0.21,"v":7.12},{"r":0.54,"v":7.18},{"r":0.91,"v":7.24},{"r":0.31,"v":7.3},{"r":0.69,"v":7.36},
{"r":0.26,"v":7.43},{"r":0.51,"v":7.5},{"r":0.76,"v":7.57},{"r":0.37,"v":7.64},{"r":0.61,"v":7.72},{"r":0.28,"v":7.8},{"r":0.66,"v":7.88},{"r":0.44,"v":7.97},{"r":0.22,"v":8.06},{"r":0.56,"v":8.16},{"r":0.34,"v":8.27},{"r":0.7,"v":8.38},{"r":0.25,"v":8.5},{"r":0.48,"v":8.62},{"r":0.36,"v":8.75},
{"r":0.05,"v":11.09},{"r":0.45,"v":10.19},{"r":0.66,"v":10.26},{"r":0.17,"v":9.13},{"r":0.55,"v":4.15},{"r":0.6,"v":4.53},
{"r":0.45,"v":5.1},{"r":0.3,"v":5.4},{"r":0.6,"v":5.7},{"r":0.4,"v":5.95},{"r":0.27,"v":6.15},{"r":0.5,"v":6.35},{"r":0.36,"v":6.6},{"r":0.6,"v":6.1},{"r":0.28,"v":5.65},{"r":0.55,"v":5.5},{"r":0.72,"v":6.3},{"r":0.44,"v":6.85},{"r":0.33,"v":5.25},{"r":0.62,"v":5.3},{"r":0.5,"v":6.05},{"r":0.25,"v":6.8},{"r":0.8,"v":5.95},{"r":0.2,"v":5.5},
{"r":0.2,"v":4.6},{"r":0.6,"v":4.65},{"r":0.85,"v":4.72},{"r":0.4,"v":4.78},{"r":1.0,"v":4.82},{"r":0.7,"v":4.88},{"r":0.25,"v":4.94},{"r":1.2,"v":5.0},{"r":0.5,"v":5.05},{"r":0.9,"v":5.08},{"r":0.3,"v":5.14},{"r":1.4,"v":5.18},{"r":0.65,"v":5.22},{"r":0.2,"v":5.26},{"r":1.05,"v":5.3},{"r":0.45,"v":5.35},{"r":0.8,"v":5.38},{"r":0.28,"v":5.43},{"r":1.3,"v":5.47},{"r":0.58,"v":5.52},{"r":0.95,"v":5.55},{"r":0.22,"v":5.6},{"r":0.7,"v":5.64},{"r":1.15,"v":5.68},{"r":0.4,"v":5.72},{"r":0.88,"v":5.75},{"r":0.18,"v":5.8},{"r":1.5,"v":5.83},{"r":0.55,"v":5.86},{"r":0.8,"v":5.9},{"r":0.3,"v":5.94},{"r":1.1,"v":5.97},{"r":0.62,"v":6.0},{"r":0.42,"v":6.04},{"r":0.95,"v":6.08},{"r":0.2,"v":6.12},{"r":1.3,"v":6.15},{"r":0.75,"v":6.18},{"r":0.5,"v":6.22},{"r":1.0,"v":6.26},{"r":0.27,"v":6.3},{"r":0.66,"v":6.34},{"r":1.2,"v":6.38},{"r":0.38,"v":6.42},{"r":0.85,"v":6.46},{"r":0.2,"v":6.5},{"r":0.58,"v":6.55},{"r":1.05,"v":6.6},{"r":0.45,"v":6.64},{"r":0.3,"v":6.68},{"r":0.78,"v":6.72},{"r":1.35,"v":6.77},{"r":0.55,"v":6.82},{"r":0.22,"v":6.88},{"r":0.95,"v":6.92},{"r":0.4,"v":6.97},{"r":0.7,"v":7.02},{"r":0.28,"v":7.08},{"r":1.15,"v":7.14},{"r":0.5,"v":7.2},{"r":0.2,"v":7.26},{"r":0.8,"v":7.32},{"r":0.36,"v":7.38},{"r":0.62,"v":7.46},{"r":0.26,"v":7.55},{"r":0.45,"v":7.62},{"r":0.9,"v":7.7},{"r":0.2,"v":7.78},{"r":0.55,"v":7.86},{"r":0.33,"v":7.95},{"r":0.72,"v":8.05},{"r":0.2,"v":8.2},{"r":0.45,"v":8.35},{"r":0.28,"v":8.55},{"r":0.6,"v":8.7},
{"r":1.05,"v":4.5},{"r":1.32,"v":4.6},{"r":1.61,"v":4.7},{"r":1.87,"v":4.78},{"r":1.18,"v":4.86},{"r":1.46,"v":4.94},{"r":1.74,"v":5.02},{"r":1.12,"v":5.1},{"r":1.55,"v":5.17},{"r":1.96,"v":5.24},{"r":1.27,"v":5.31},{"r":1.68,"v":5.38},{"r":1.4,"v":5.45},{"r":1.83,"v":5.52},
{"r":1.08,"v":5.59},{"r":1.35,"v":5.66},{"r":1.63,"v":5.73},{"r":1.9,"v":5.8},{"r":1.2,"v":5.87},{"r":1.49,"v":5.94},{"r":1.77,"v":6.01},{"r":1.14,"v":6.08},{"r":1.58,"v":6.15},{"r":1.99,"v":6.22},{"r":1.3,"v":6.29},{"r":1.71,"v":6.36},{"r":1.43,"v":6.43},{"r":1.85,"v":6.5},
{"r":1.03,"v":6.58},{"r":1.37,"v":6.66},{"r":1.66,"v":6.74},{"r":1.93,"v":6.82},{"r":1.22,"v":6.9},{"r":1.52,"v":6.99},{"r":1.8,"v":7.08},{"r":1.1,"v":7.18},{"r":1.6,"v":7.28},{"r":1.25,"v":7.39},{"r":1.7,"v":7.5},{"r":1.45,"v":7.62},{"r":1.06,"v":7.75},{"r":1.34,"v":7.9},{"r":1.57,"v":8.05},{"r":1.15,"v":8.22},{"r":1.41,"v":8.4},{"r":1.84,"v":8.95},{"r":1.03,"v":4.15},{"r":1.56,"v":4.48},{"r":1.77,"v":4.48},
{"r":2.53,"v":7.42},{"r":3.12,"v":6.91},{"r":4.02,"v":6.84},{"r":4.2,"v":6.9},{"r":4.84,"v":6.87},{"r":6.23,"v":6.75},{"r":8.16,"v":7.06},{"r":8.1,"v":5.82},{"r":10.09,"v":6.26},{"r":10.67,"v":5.46},{"r":11.31,"v":6.51},{"r":6.17,"v":5.97},{"r":4.18,"v":6.21},{"r":4.7,"v":6.2},{"r":3.6,"v":4.9},{"r":3.7,"v":4.37},{"r":3.58,"v":4.23},{"r":4.34,"v":4.44},{"r":4.73,"v":4.95},{"r":5.25,"v":4.87},{"r":5.37,"v":4.48},{"r":6.34,"v":4.44},{"r":2.91,"v":5.31},{"r":3.34,"v":5.21},{"r":2.2,"v":4.58},
{"r":2.05,"v":6.9},{"r":2.2,"v":6.5},{"r":2.35,"v":7.0},{"r":2.5,"v":6.2},{"r":2.7,"v":6.6},{"r":2.9,"v":6.0},{"r":2.1,"v":5.9},{"r":2.3,"v":5.6},{"r":2.6,"v":5.7},{"r":2.8,"v":5.4},{"r":3.0,"v":6.3},{"r":3.3,"v":5.9},{"r":2.15,"v":5.2},{"r":2.45,"v":5.0},{"r":2.75,"v":4.9},{"r":2.25,"v":4.7},{"r":2.55,"v":4.6},{"r":2.85,"v":4.8},{"r":3.05,"v":5.6},{"r":3.5,"v":5.5},{"r":3.8,"v":6.0},{"r":2.4,"v":6.75},{"r":2.0,"v":7.6},{"r":2.65,"v":6.4},{"r":3.2,"v":6.6},{"r":3.9,"v":5.3},{"r":2.95,"v":7.1},{"r":2.1,"v":8.1},{"r":2.3,"v":7.9},{"r":3.4,"v":6.2},{"r":2.05,"v":4.9},{"r":2.6,"v":5.15}]
},
"spacing":1,
"vconcat":[
{"resolve":{"scale":{"color":"independent"},"legend":{"color":"independent"}},
 "hconcat":[
 {"resolve":{"scale":{"color":"independent"},"legend":{"color":"independent"}},
  "vconcat":[
  {"width":1,"height":15,"data":{"values":[]},"mark":"point"},
  {"width":158,"height":168,
   "title":{"text":"(a)","orient":"bottom","frame":"group","offset":12,"dx":-20},
   "layer":[
    {"data":{"name":"vioA"},"mark":{"type":"area","orient":"horizontal","stroke":"#111","strokeWidth":0.6},
     "encoding":{
      "y":{"field":"v","type":"quantitative","scale":{"domain":[1.6,11.42],"nice":false,"zero":false},"axis":{"title":"CTLA4","titleFontWeight":"normal","values":[3,6,9],"titlePadding":6}},
      "x":{"field":"lo","type":"quantitative","scale":{"domain":[0.4,2.6],"nice":false,"zero":false},"axis":{"title":"Risk score","titleFontWeight":"normal","values":[1,2],"labelExpr":"datum.value === 1 ? 'Low' : 'High'"}},
      "x2":{"field":"hi"},
      "color":{"field":"g","type":"nominal","scale":{"domain":["Low","High"],"range":["#0f1d5a","#e0100f"]},"legend":{"title":"Risk score","orient":"bottom","direction":"vertical","offset":13}}}},
    {"data":{"name":"boxA"},"mark":{"type":"rule","color":"#111","strokeWidth":0.8},"encoding":{"x":{"field":"x","type":"quantitative"},"y":{"field":"wlo","type":"quantitative"},"y2":{"field":"whi"}}},
    {"data":{"name":"boxA"},"mark":{"type":"bar","size":13,"fill":"white","stroke":"#111","strokeWidth":0.8,"orient":"vertical"},"encoding":{"x":{"field":"x","type":"quantitative"},"y":{"field":"q1","type":"quantitative"},"y2":{"field":"q3"}}},
    {"data":{"name":"boxA"},"mark":{"type":"tick","orient":"horizontal","size":13,"thickness":1,"color":"#111"},"encoding":{"x":{"field":"x","type":"quantitative"},"y":{"field":"med","type":"quantitative"}}},
    {"data":{"name":"outA"},"mark":{"type":"circle","size":12,"color":"#111","opacity":1},"encoding":{"x":{"field":"x","type":"quantitative"},"y":{"field":"v","type":"quantitative"}}},
    {"data":{"name":"brA"},"mark":{"type":"rule","color":"#111","strokeWidth":0.8},"encoding":{"x":{"field":"x1","type":"quantitative"},"x2":{"field":"x2"},"y":{"field":"y","type":"quantitative"}}},
    {"data":{"name":"brA"},"mark":{"type":"rule","color":"#111","strokeWidth":0.8},"encoding":{"x":{"field":"x1","type":"quantitative"},"y":{"field":"yt","type":"quantitative"},"y2":{"field":"y"}}},
    {"data":{"name":"brA"},"mark":{"type":"rule","color":"#111","strokeWidth":0.8},"encoding":{"x":{"field":"x2","type":"quantitative"},"y":{"field":"yt","type":"quantitative"},"y2":{"field":"y"}}},
    {"data":{"name":"brA"},"mark":{"type":"text","baseline":"bottom","dy":-1,"fontSize":9.5,"color":"#111"},"encoding":{"x":{"field":"xm","type":"quantitative"},"y":{"field":"y","type":"quantitative"},"text":{"field":"t"}}}
   ]}
 ],"spacing":0},
 {"hconcat":[
  {"vconcat":[
   {"width":193,"height":50,"data":{"name":"tdB"},"mark":{"type":"area","color":"#f57c0e","stroke":"#333","strokeWidth":0.6},
    "encoding":{"x":{"field":"r","type":"quantitative","scale":{"domain":[-0.4,12],"nice":false,"zero":false},"axis":null},"y":{"field":"d","type":"quantitative","scale":{"domain":[0,1.54],"nice":false},"axis":null}}},
   {"width":193,"height":177,"view":{"stroke":"#222","strokeWidth":1},
    "title":{"text":"(b)","orient":"bottom","frame":"group","offset":12,"dx":-9},
    "layer":[
     {"data":{"name":"ptsB"},"mark":{"type":"circle","size":15,"color":"#000","opacity":1},
      "encoding":{
       "x":{"field":"r","type":"quantitative","title":"Risk score","scale":{"domain":[-0.4,12],"nice":false,"zero":false},"axis":{"titleFontWeight":"normal","values":[0,1.5,3,4.5,6,7.5,9,10.5],"labelExpr":"datum.value % 3 === 0 ? datum.label : ''","tickOpacity":{"condition":{"test":"datum.value % 3 === 0","value":1},"value":0},"grid":true,"gridDash":[1,3],"gridColor":"#555","gridWidth":0.8,"domain":false}},
       "y":{"field":"v","type":"quantitative","title":"CTLA4","scale":{"domain":[1.1,10.85],"nice":false,"zero":false},"axis":{"titleFontWeight":"normal","values":[2.5,3.75,5,6.25,7.5,8.75,10],"labelExpr":"datum.value % 2.5 === 0 ? format(datum.value, '.1f') : ''","tickOpacity":{"condition":{"test":"datum.value % 2.5 === 0","value":1},"value":0},"grid":true,"gridDash":[1,3],"gridColor":"#555","gridWidth":0.8,"domain":false}}}},
     {"data":{"name":"bandB"},"mark":{"type":"area","color":"#aaaaaa","opacity":0.55},"encoding":{"x":{"field":"r","type":"quantitative","title":"Risk score"},"y":{"field":"lo","type":"quantitative","title":"CTLA4"},"y2":{"field":"hi"}}},
     {"data":{"name":"lineB"},"mark":{"type":"line","color":"#24398f","strokeWidth":1.3},"encoding":{"x":{"field":"r","type":"quantitative","title":"Risk score"},"y":{"field":"v","type":"quantitative","title":"CTLA4"}}},
     {"data":{"name":"txtB"},"mark":{"type":"text","align":"left","baseline":"middle","fontSize":10,"color":"#111"},"encoding":{"x":{"field":"r","type":"quantitative","title":"Risk score"},"y":{"field":"v","type":"quantitative","title":"CTLA4"},"text":{"field":"t"}}}
    ]}
  ],"spacing":0},
  {"vconcat":[
   {"width":1,"height":50,"data":{"values":[]},"mark":"point"},
   {"width":37,"height":177,"data":{"name":"rdB"},"mark":{"type":"area","orient":"horizontal","color":"#0f1d5a"},
    "encoding":{"y":{"field":"v","type":"quantitative","scale":{"domain":[1.1,10.85],"nice":false,"zero":false},"axis":null},"x":{"field":"d","type":"quantitative","scale":{"domain":[0,1],"nice":false},"axis":null}}}
  ],"spacing":0}
 ],"spacing":0},
 {"width":153,"height":182,
  "title":{"text":"(c)","orient":"bottom","frame":"group","offset":12,"dx":-8},
  "layer":[
   {"data":{"name":"vioC"},"mark":{"type":"area","orient":"horizontal","stroke":"#111","strokeWidth":0.6},
    "encoding":{
     "y":{"field":"v","type":"quantitative","scale":{"domain":[1.25,13.64],"nice":false,"zero":false},"axis":{"title":"PDCD1","titleFontWeight":"normal","values":[5,10],"titlePadding":6}},
     "x":{"field":"lo","type":"quantitative","scale":{"domain":[0.4,2.6],"nice":false,"zero":false},"axis":{"title":"Risk score","titleFontWeight":"normal","values":[1,2],"labelExpr":"datum.value === 1 ? 'Low' : 'High'"}},
     "x2":{"field":"hi"},
     "color":{"field":"g","type":"nominal","scale":{"domain":["Low","High"],"range":["#0f1d5a","#e0100f"]},"legend":{"title":"Risk score","orient":"bottom","direction":"vertical","offset":13}}}},
   {"data":{"name":"boxC"},"mark":{"type":"rule","color":"#111","strokeWidth":0.8},"encoding":{"x":{"field":"x","type":"quantitative"},"y":{"field":"wlo","type":"quantitative"},"y2":{"field":"whi"}}},
   {"data":{"name":"boxC"},"mark":{"type":"bar","size":13,"fill":"white","stroke":"#111","strokeWidth":0.8,"orient":"vertical"},"encoding":{"x":{"field":"x","type":"quantitative"},"y":{"field":"q1","type":"quantitative"},"y2":{"field":"q3"}}},
   {"data":{"name":"boxC"},"mark":{"type":"tick","orient":"horizontal","size":13,"thickness":1,"color":"#111"},"encoding":{"x":{"field":"x","type":"quantitative"},"y":{"field":"med","type":"quantitative"}}},
   {"data":{"name":"outC"},"mark":{"type":"circle","size":12,"color":"#111","opacity":1},"encoding":{"x":{"field":"x","type":"quantitative"},"y":{"field":"v","type":"quantitative"}}},
   {"data":{"name":"brC"},"mark":{"type":"rule","color":"#111","strokeWidth":0.8},"encoding":{"x":{"field":"x1","type":"quantitative"},"x2":{"field":"x2"},"y":{"field":"y","type":"quantitative"}}},
   {"data":{"name":"brC"},"mark":{"type":"rule","color":"#111","strokeWidth":0.8},"encoding":{"x":{"field":"x1","type":"quantitative"},"y":{"field":"yt","type":"quantitative"},"y2":{"field":"y"}}},
   {"data":{"name":"brC"},"mark":{"type":"rule","color":"#111","strokeWidth":0.8},"encoding":{"x":{"field":"x2","type":"quantitative"},"y":{"field":"yt","type":"quantitative"},"y2":{"field":"y"}}},
   {"data":{"name":"brC"},"mark":{"type":"text","baseline":"bottom","dy":-1,"fontSize":9.5,"color":"#111"},"encoding":{"x":{"field":"xm","type":"quantitative"},"y":{"field":"y","type":"quantitative"},"text":{"field":"t"}}}
  ]}
],"spacing":11},
{"resolve":{"scale":{"color":"independent"},"legend":{"color":"independent"}},
 "hconcat":[
 {"width":53,"height":1,"data":{"values":[]},"mark":"point"},
 {"hconcat":[
  {"vconcat":[
   {"width":193,"height":40,"data":{"name":"tdD"},"mark":{"type":"area","color":"#f57c0e","stroke":"#333","strokeWidth":0.6},
    "encoding":{"x":{"field":"r","type":"quantitative","scale":{"domain":[-0.4,12],"nice":false,"zero":false},"axis":null},"y":{"field":"d","type":"quantitative","scale":{"domain":[0,1.223],"nice":false},"axis":null}}},
   {"width":193,"height":177,"view":{"stroke":"#222","strokeWidth":1},
    "title":{"text":"(d)","orient":"bottom","frame":"group","offset":12,"dx":-4},
    "layer":[
     {"data":{"name":"ptsD"},"mark":{"type":"circle","size":15,"color":"#000","opacity":1},
      "encoding":{
       "x":{"field":"r","type":"quantitative","title":"Risk score","scale":{"domain":[-0.4,12],"nice":false,"zero":false},"axis":{"titleFontWeight":"normal","values":[0,1.5,3,4.5,6,7.5,9,10.5],"labelExpr":"datum.value % 3 === 0 ? datum.label : ''","tickOpacity":{"condition":{"test":"datum.value % 3 === 0","value":1},"value":0},"grid":true,"gridDash":[1,3],"gridColor":"#555","gridWidth":0.8,"domain":false}},
       "y":{"field":"v","type":"quantitative","title":"PDCD1","scale":{"domain":[2.2,12.15],"nice":false,"zero":false},"axis":{"titleFontWeight":"normal","values":[2.5,3.75,5,6.25,7.5,8.75,10,11.25],"labelExpr":"datum.value % 2.5 === 0 ? format(datum.value, '.1f') : ''","tickOpacity":{"condition":{"test":"datum.value % 2.5 === 0","value":1},"value":0},"grid":true,"gridDash":[1,3],"gridColor":"#555","gridWidth":0.8,"domain":false}}}},
     {"data":{"name":"bandD"},"mark":{"type":"area","color":"#aaaaaa","opacity":0.55},"encoding":{"x":{"field":"r","type":"quantitative","title":"Risk score"},"y":{"field":"lo","type":"quantitative","title":"PDCD1"},"y2":{"field":"hi"}}},
     {"data":{"name":"lineD"},"mark":{"type":"line","color":"#24398f","strokeWidth":1.3},"encoding":{"x":{"field":"r","type":"quantitative","title":"Risk score"},"y":{"field":"v","type":"quantitative","title":"PDCD1"}}},
     {"data":{"name":"txtD"},"mark":{"type":"text","align":"left","baseline":"middle","fontSize":10,"color":"#111"},"encoding":{"x":{"field":"r","type":"quantitative","title":"Risk score"},"y":{"field":"v","type":"quantitative","title":"PDCD1"},"text":{"field":"t"}}}
    ]}
  ],"spacing":0},
  {"vconcat":[
   {"width":1,"height":40,"data":{"values":[]},"mark":"point"},
   {"width":32,"height":177,"data":{"name":"rdD"},"mark":{"type":"area","orient":"horizontal","color":"#0f1d5a"},
    "encoding":{"y":{"field":"v","type":"quantitative","scale":{"domain":[2.2,12.15],"nice":false,"zero":false},"axis":null},"x":{"field":"d","type":"quantitative","scale":{"domain":[0,1],"nice":false},"axis":null}}}
  ],"spacing":0}
 ],"spacing":0},
 {"resolve":{"scale":{"color":"independent"},"legend":{"color":"independent"}},
  "vconcat":[
  {"width":1,"height":4,"data":{"values":[]},"mark":"point"},
  {"width":150,"height":166,
   "title":{"text":"(e)","orient":"bottom","frame":"group","offset":12,"dx":-22},
   "layer":[
    {"data":{"name":"vioE"},"mark":{"type":"area","orient":"horizontal","stroke":"#111","strokeWidth":0.6},
     "encoding":{
      "y":{"field":"v","type":"quantitative","scale":{"domain":[2.9,12.33],"nice":false,"zero":false},"axis":{"title":"CD274","titleFontWeight":"normal","values":[5,7.5,10],"format":".1f","titlePadding":6}},
      "x":{"field":"lo","type":"quantitative","scale":{"domain":[0.4,2.6],"nice":false,"zero":false},"axis":{"title":"Risk score","titleFontWeight":"normal","values":[1,2],"labelExpr":"datum.value === 1 ? 'Low' : 'High'"}},
      "x2":{"field":"hi"},
      "color":{"field":"g","type":"nominal","scale":{"domain":["Low","High"],"range":["#0f1d5a","#e0100f"]},"legend":{"title":"Risk score","orient":"bottom","direction":"vertical","offset":13}}}},
    {"data":{"name":"boxE"},"mark":{"type":"rule","color":"#111","strokeWidth":0.8},"encoding":{"x":{"field":"x","type":"quantitative"},"y":{"field":"wlo","type":"quantitative"},"y2":{"field":"whi"}}},
    {"data":{"name":"boxE"},"mark":{"type":"bar","size":13,"fill":"white","stroke":"#111","strokeWidth":0.8,"orient":"vertical"},"encoding":{"x":{"field":"x","type":"quantitative"},"y":{"field":"q1","type":"quantitative"},"y2":{"field":"q3"}}},
    {"data":{"name":"boxE"},"mark":{"type":"tick","orient":"horizontal","size":13,"thickness":1,"color":"#111"},"encoding":{"x":{"field":"x","type":"quantitative"},"y":{"field":"med","type":"quantitative"}}},
    {"data":{"name":"outE"},"mark":{"type":"circle","size":12,"color":"#111","opacity":1},"encoding":{"x":{"field":"x","type":"quantitative"},"y":{"field":"v","type":"quantitative"}}},
    {"data":{"name":"brE"},"mark":{"type":"rule","color":"#111","strokeWidth":0.8},"encoding":{"x":{"field":"x1","type":"quantitative"},"x2":{"field":"x2"},"y":{"field":"y","type":"quantitative"}}},
    {"data":{"name":"brE"},"mark":{"type":"rule","color":"#111","strokeWidth":0.8},"encoding":{"x":{"field":"x1","type":"quantitative"},"y":{"field":"yt","type":"quantitative"},"y2":{"field":"y"}}},
    {"data":{"name":"brE"},"mark":{"type":"rule","color":"#111","strokeWidth":0.8},"encoding":{"x":{"field":"x2","type":"quantitative"},"y":{"field":"yt","type":"quantitative"},"y2":{"field":"y"}}},
    {"data":{"name":"brE"},"mark":{"type":"text","baseline":"bottom","dy":-1,"fontSize":9.5,"color":"#111"},"encoding":{"x":{"field":"xm","type":"quantitative"},"y":{"field":"y","type":"quantitative"},"text":{"field":"t"}}}
   ]}
 ],"spacing":0}
],"spacing":16},
{"hconcat":[
 {"width":171,"height":1,"data":{"values":[]},"mark":"point"},
 {"hconcat":[
  {"vconcat":[
   {"width":193,"height":34,"data":{"name":"tdF"},"mark":{"type":"area","color":"#f57c0e","stroke":"#333","strokeWidth":0.6},
    "encoding":{"x":{"field":"r","type":"quantitative","scale":{"domain":[-0.4,12],"nice":false,"zero":false},"axis":null},"y":{"field":"d","type":"quantitative","scale":{"domain":[0,1.04],"nice":false},"axis":null}}},
   {"width":193,"height":177,"view":{"stroke":"#222","strokeWidth":1},
    "title":{"text":"(f)","orient":"bottom","frame":"group","offset":12,"dx":-2},
    "layer":[
     {"data":{"name":"ptsF"},"mark":{"type":"circle","size":15,"color":"#000","opacity":1},
      "encoding":{
       "x":{"field":"r","type":"quantitative","title":"Risk score","scale":{"domain":[-0.4,12],"nice":false,"zero":false},"axis":{"titleFontWeight":"normal","values":[0,1.5,3,4.5,6,7.5,9,10.5],"labelExpr":"datum.value % 3 === 0 ? datum.label : ''","tickOpacity":{"condition":{"test":"datum.value % 3 === 0","value":1},"value":0},"grid":true,"gridDash":[1,3],"gridColor":"#555","gridWidth":0.8,"domain":false}},
       "y":{"field":"v","type":"quantitative","title":"CD274","scale":{"domain":[3.75,11.5],"nice":false,"zero":false},"axis":{"titleFontWeight":"normal","values":[4,5,6,7,8,9,10,11],"labelExpr":"datum.value % 2 === 0 ? datum.label : ''","tickOpacity":{"condition":{"test":"datum.value % 2 === 0","value":1},"value":0},"grid":true,"gridDash":[1,3],"gridColor":"#555","gridWidth":0.8,"domain":false}}}},
     {"data":{"name":"bandF"},"mark":{"type":"area","color":"#aaaaaa","opacity":0.55},"encoding":{"x":{"field":"r","type":"quantitative","title":"Risk score"},"y":{"field":"lo","type":"quantitative","title":"CD274"},"y2":{"field":"hi"}}},
     {"data":{"name":"lineF"},"mark":{"type":"line","color":"#24398f","strokeWidth":1.3},"encoding":{"x":{"field":"r","type":"quantitative","title":"Risk score"},"y":{"field":"v","type":"quantitative","title":"CD274"}}},
     {"data":{"name":"txtF"},"mark":{"type":"text","align":"left","baseline":"middle","fontSize":10,"color":"#111"},"encoding":{"x":{"field":"r","type":"quantitative","title":"Risk score"},"y":{"field":"v","type":"quantitative","title":"CD274"},"text":{"field":"t"}}}
    ]}
  ],"spacing":0},
  {"vconcat":[
   {"width":1,"height":34,"data":{"values":[]},"mark":"point"},
   {"width":33,"height":177,"data":{"name":"rdF"},"mark":{"type":"area","orient":"horizontal","color":"#0f1d5a"},
    "encoding":{"y":{"field":"v","type":"quantitative","scale":{"domain":[3.75,11.5],"nice":false,"zero":false},"axis":null},"x":{"field":"d","type":"quantitative","scale":{"domain":[0,1],"nice":false},"axis":null}}}
  ],"spacing":0}
 ],"spacing":0}
],"spacing":0}
]
}
